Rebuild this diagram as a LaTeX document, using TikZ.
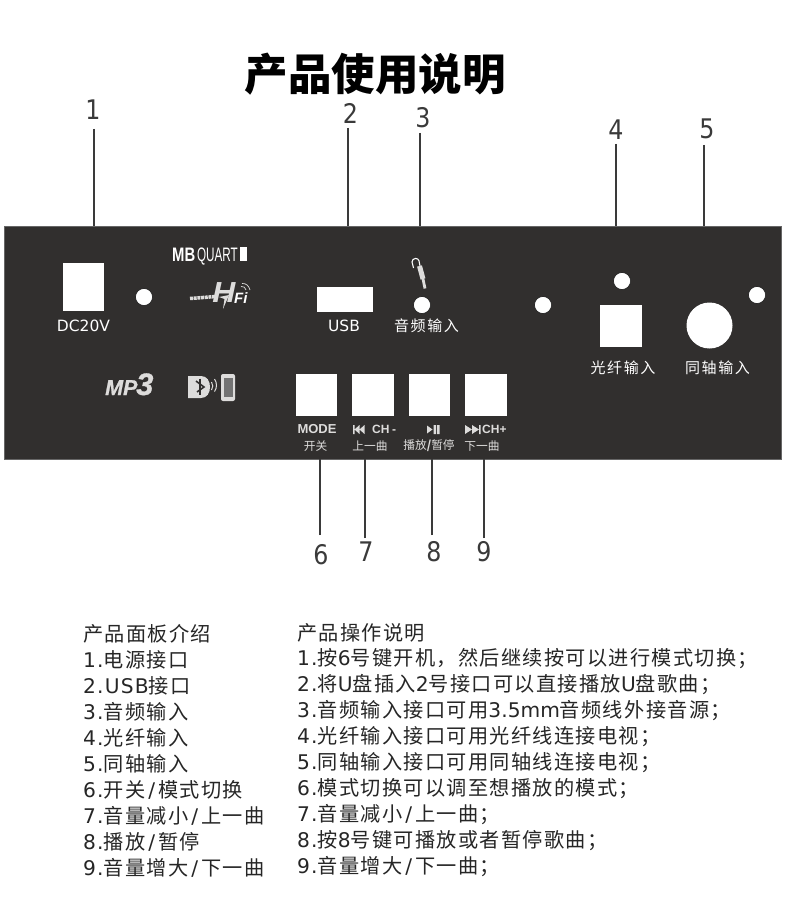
\documentclass[tikz,border=0pt]{standalone}
\usepackage{fontspec}
\setmainfont{Liberation Sans}
\newfontfamily\cjk{Noto Sans CJK SC}
\newfontfamily\cjkbody[LetterSpace=6.5]{Noto Sans CJK SC}
\newfontfamily\cjkport[LetterSpace=11]{Noto Sans CJK SC}
\newfontfamily\djv{DejaVu Sans}
\newfontfamily\djvbody[LetterSpace=6]{DejaVu Sans}
\newcommand{\latn}[1]{{\djvbody #1}}
\newcommand{\slashw}{\kern3pt{\djvbody /}\kern3pt}
\definecolor{panelc}{HTML}{312F2E}
\definecolor{linec}{HTML}{3A3A3A}
\definecolor{logoc}{HTML}{DDDCDB}
\begin{document}
\begin{tikzpicture}[x=1pt,y=-1pt,
  wire/.style={draw=linec,line width=1.5pt},
  num/.style={font=\djv\fontsize{27}{27}\selectfont\addfontfeature{FakeStretch=.88},text=linec,inner sep=0pt},
  port/.style={fill=white,draw=none,inner sep=0pt},
  dotc/.style={circle,fill=white,draw=black,line width=.4pt,minimum size=17pt,inner sep=0pt},
  plab/.style={font=\cjkport\fontsize{15}{15}\selectfont,text=white,inner sep=0pt},
  plat/.style={font=\djv\fontsize{15.5}{15}\selectfont,text=white,inner sep=0pt},
  keya/.style={font=\bfseries\fontsize{12}{12}\selectfont,text=logoc,inner sep=0pt},
  keyb/.style={font=\cjk\fontsize{11.7}{12}\selectfont,text=logoc,inner sep=0pt},
  body/.style={font=\cjkbody\fontsize{20.2}{20}\selectfont,text=black!85,anchor=west,inner sep=0pt}]
\useasboundingbox (0,0) rectangle (790,909);
\fill[white] (0,0) rectangle (790,909);
\node[font=\cjk\bfseries\fontsize{43.5}{44}\selectfont,inner sep=0pt] (title) at (375,74) {产品使用说明};
% panel
\node[fill=panelc,draw=black!60,line width=.8pt,minimum width=777pt,minimum height=233pt,inner sep=0pt,outer sep=0pt] (panel) at (392.5,342.5) {};
% numbers
\node[num] (n1) at (93,110) {1};
\node[num] (n2) at (350.5,113.5) {2};
\node[num] (n3) at (423,118) {3};
\node[num] (n4) at (616,130) {4};
\node[num] (n5) at (707,129) {5};
\node[num] (n6) at (321,555) {6};
\node[num] (n7) at (366,552) {7};
\node[num] (n8) at (434,552) {8};
\node[num] (n9) at (484,552) {9};
\coordinate (t1) at (94,129); \coordinate (t2) at (348,128); \coordinate (t3) at (420,133);
\coordinate (t4) at (616,144); \coordinate (t5) at (704,145);
\coordinate (b6) at (320,535); \coordinate (b7) at (365,538); \coordinate (b8) at (432,535); \coordinate (b9) at (484,538);
\foreach \t in {t1,t2,t3,t4,t5} \draw[wire] (\t) -- (\t |- panel.north);
\foreach \t in {b6,b7,b8,b9} \draw[wire] (\t) -- (\t |- panel.south);
% ports
\node[port,minimum width=41pt,minimum height=48pt] (dc) at (83.5,287) {};
\node[port,minimum width=56pt,minimum height=25pt] (usb) at (345,299.5) {};
\node[port,minimum width=42pt,minimum height=42pt] (opt) at (621,326) {};
\node[port,circle,minimum size=46pt] (coax) at (709.5,325.5) {};
\node[dotc] (d1) at (144,297) {};
\node[dotc] (d2) at (422,305) {};
\node[dotc] (d3) at (543,305) {};
\node[dotc] (d4) at (622,281) {};
\node[dotc] (d5) at (757,295) {};
\foreach \n/\x in {k6/316.5,k7/373,k8/429.5,k9/486}
  \node[port,minimum width=41.5pt,minimum height=42pt] (\n) at (\x,395) {};
% labels
\node[plat] (ldc) at (83.5,326) {DC20V};
\node[plat] (lusb) at (344,326) {USB};
\node[plab] (lau) at (426.5,326) {音频输入};
\node[plab] (lop) at (623,368) {光纤输入};
\node[plab] (lco) at (717.5,368) {同轴输入};
\node[keya,font=\bfseries\fontsize{13}{13}\selectfont] (m6) at (317,429.5) {MODE};
\node[keyb] (c6) at (315.5,446) {开关};
\node[keya,anchor=west] (m7) at (372,429.5) {CH\kern2.5pt-};
\node[keyb] (c7) at (370,446) {上一曲};
\node[keyb] (c8) at (429,446) {播放{\bfseries/}暂停};
\node[keya,anchor=west] (m9) at (482,429.5) {CH+};
\node[keyb] (c9) at (482,446) {下一曲};
% transport icons
\fill[logoc] (353,425) rectangle (354.5,434)
  (359.5,425) -- (354.5,429.5) -- (359.5,434) -- cycle
  (364.5,425) -- (359.5,429.5) -- (364.5,434) -- cycle;
\fill[logoc] (427,425.5) -- (427,433.5) -- (432.5,429.5) -- cycle (433.5,425) rectangle (436,434) (437,425) rectangle (439.5,434);
\fill[logoc] (465,425) -- (472,429.5) -- (465,434) -- cycle (472,425) -- (479,429.5) -- (472,434) -- cycle
  (479,425) rectangle (480.5,434);
% MB QUART logo
\node[font=\bfseries\fontsize{19.5}{20}\selectfont,text=white,inner sep=0pt,anchor=base west,xscale=.76] (mb) at (172,261) {MB};
\node[font=\fontsize{19.5}{20}\selectfont,text=white,inner sep=0pt,anchor=base west,xscale=.6] (qu) at (197,261) {QUART};
\fill[white] (240,247) rectangle (247,261);
% MP3 logo
\node[font=\bfseries\itshape\fontsize{21.5}{21}\selectfont\addfontfeature{FakeBold=1},text=logoc,inner sep=0pt,anchor=base west] (mp) at (105,395) {MP};
\node[font=\bfseries\itshape\fontsize{31}{31}\selectfont\addfontfeature{FakeBold=1},text=logoc,inner sep=0pt,anchor=base west] (three) at (136,395) {3};
% HiFi logo
\node[font=\bfseries\itshape\fontsize{29}{29}\selectfont,text=logoc,inner sep=0pt,xscale=1.1] (hh) at (224,293) {H};
\fill[logoc] (219,297) -- (229,295) -- (223,309) -- (224.5,299) -- cycle;
\draw[logoc,line width=3.5pt,dash pattern=on 3pt off .7pt] (190,298.5) -- (216,296.5);
\node[font=\bfseries\itshape\fontsize{15}{15}\selectfont,text=white,inner sep=0pt,anchor=base west] (fi) at (234,303) {Fi};
\draw[logoc,line width=.7pt] (241,286.5) .. controls (243.5,286) and (245.5,287.5) .. (246,290)
  (242,283.5) .. controls (246,283) and (249,286) .. (250,290);
% bluetooth + phone
\fill[logoc] (188,376) -- (201,376) .. controls (207,376) and (210,381) .. (210,387) .. controls (210,393) and (207,398) .. (201,398) -- (188,398) -- cycle;
\draw[panelc,line width=1.6pt] (196,381) -- (204,387) -- (197,392);
\draw[panelc,line width=1.6pt] (200,378.5) -- (200,395);
\draw[logoc,line width=1pt] (211.5,382) arc (-35:35:7) (214.5,379) arc (-35:35:11);
\fill[logoc,rounded corners=2pt] (221,374) rectangle (235,401);
\fill[black!55] (223.5,378) rectangle (233,396.5);
% plug
\draw[white,line width=1.1pt] (413.5,268) -- (412,262) arc (180:340:3.6) -- (420,266);
\draw[logoc,line width=5pt] (419.5,266) -- (423,279);
\draw[logoc,line width=2.8pt] (423,279) -- (425,288.5);
% body text
\node[body] (a0) at (83,634) {产品面板介绍};
\node[body] (a1) at (83,660) {\latn{1.}电源接口};
\node[body] (a2) at (83,686) {\latn{2.USB}接口};
\node[body] (a3) at (83,712) {\latn{3.}音频输入};
\node[body] (a4) at (83,738) {\latn{4.}光纤输入};
\node[body] (a5) at (83,764) {\latn{5.}同轴输入};
\node[body] (a6) at (83,790) {\latn{6.}开关\slashw 模式切换};
\node[body] (a7) at (83,816) {\latn{7.}音量减小\slashw 上一曲};
\node[body] (a8) at (83,842) {\latn{8.}播放\slashw 暂停};
\node[body] (a9) at (83,868) {\latn{9.}音量增大\slashw 下一曲};
\node[body] (r0) at (297,633) {产品操作说明};
\node[body] (r1) at (297,659) {\latn{1.}按\latn{6}号键开机，然后继续按可以进行模式切换；};
\node[body] (r2) at (297,685) {\latn{2.}将\latn{U}盘插入\latn{2}号接口可以直接播放\latn{U}盘歌曲；};
\node[body] (r3) at (297,711) {\latn{3.}音频输入接口可用{\djv 3.5mm}音频线外接音源；};
\node[body] (r4) at (297,737) {\latn{4.}光纤输入接口可用光纤线连接电视；};
\node[body] (r5) at (297,763) {\latn{5.}同轴输入接口可用同轴线连接电视；};
\node[body] (r6) at (297,789) {\latn{6.}模式切换可以调至想播放的模式；};
\node[body] (r7) at (297,815) {\latn{7.}音量减小\slashw 上一曲；};
\node[body] (r8) at (297,841) {\latn{8.}按\latn{8}号键可播放或者暂停歌曲；};
\node[body] (r9) at (297,867) {\latn{9.}音量增大\slashw 下一曲；};
\end{tikzpicture}
\end{document}
